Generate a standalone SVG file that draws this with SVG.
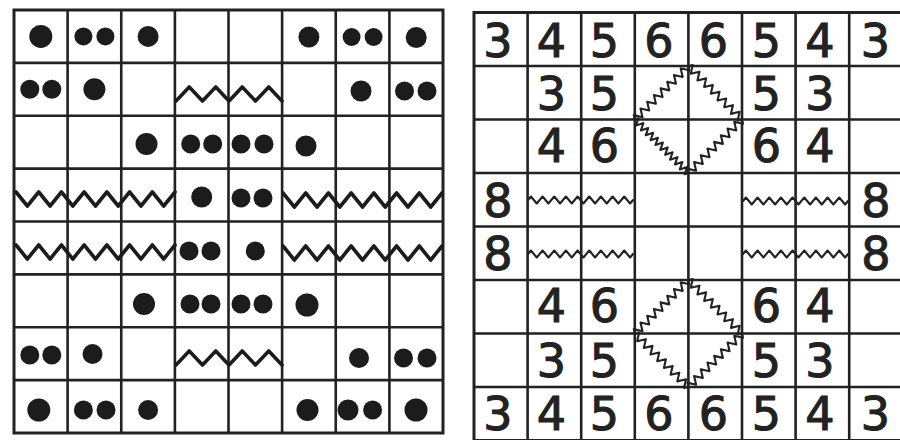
<svg xmlns="http://www.w3.org/2000/svg" xmlns:xlink="http://www.w3.org/1999/xlink" width="900" height="440" viewBox="0 0 900 440">
<style>
.grid{fill:none;stroke:#222;stroke-width:2.6}
.outer{fill:none;stroke:#222;stroke-width:3}
.d{fill:#1c1c1c}
.zt{fill:none;stroke:#1c1c1c;stroke-width:3.6;stroke-linejoin:round;stroke-linecap:round}
.zn{fill:none;stroke:#222;stroke-width:2.1;stroke-linejoin:round;stroke-linecap:round}
.n{font-family:"DejaVu Sans","Liberation Sans",sans-serif;font-size:46px;fill:#222;stroke:#222;stroke-width:1.1;text-anchor:middle}
</style>
<defs>
<path id="zl3" d="M0,-7 l11.36,14 l11.36,-14 l11.36,14 l11.36,-14 l11.36,14 l11.36,-14 l11.36,14 l11.36,-14 l11.36,14 l11.36,-14 l11.36,14 l11.36,-14 l11.36,14 l11.36,-14"/>
<path id="zl2" d="M0,7 l13.25,-14 l13.25,14 l13.25,-14 l13.25,14 l13.25,-14 l13.25,14 l13.25,-14 l13.25,14"/>
<path id="wz" d="M0,0 l2.92,-3.5 l5.833,7 l5.833,-7 l5.833,7 l5.833,-7 l5.833,7 l5.833,-7 l5.833,7 l5.833,-7 l5.833,7 l5.833,-7 l5.833,7 l5.833,-7 l5.833,7 l5.833,-7 l5.833,7 l5.833,-7 l5.833,7 l2.92,-3.5"/>
<path id="dz" d="M0,0 l2.37,-3.8 l4.733,7.6 l4.733,-7.6 l4.733,7.6 l4.733,-7.6 l4.733,7.6 l4.733,-7.6 l4.733,7.6 l4.733,-7.6 l4.733,7.6 l4.733,-7.6 l4.733,7.6 l4.733,-7.6 l4.733,7.6 l4.733,-7.6 l4.733,7.6 l2.37,-3.8"/>
<path id="dz2" d="M0,0 l1.72,-3.5 l3.442,7 l3.442,-7 l3.442,7 l3.442,-7 l3.442,7 l3.442,-7 l3.442,7 l3.442,-7 l3.442,7 l3.442,-7 l3.442,7 l3.442,-7 l3.442,7 l3.442,-7 l3.442,7 l3.442,-7 l3.442,7 l3.442,-7 l3.442,7 l3.442,-7 l3.442,7 l1.72,-3.5"/>
</defs>
<rect width="900" height="440" fill="#fff"/>

<g id="left-grid">
<path class="grid" d="M67.6,10V433M121.25,10V433M174.9,10V433M228.5,10V433M282.1,10V433M335.75,10V433M389.4,10V433M14,62.9H443M14,115.75H443M14,168.6H443M14,221.5H443M14,274.4H443M14,327.25H443M14,380.1H443"/>
<rect class="outer" x="14" y="10" width="429" height="423"/>
</g>

<g id="left-row0">
<circle class="d" cx="40.8" cy="36.4" r="11.5"/>
<circle class="d" cx="83.4" cy="36.4" r="9"/><circle class="d" cx="105.4" cy="36.4" r="9"/>
<circle class="d" cx="148.1" cy="36.4" r="10.5"/>
<circle class="d" cx="308.9" cy="37" r="10.5"/>
<circle class="d" cx="351.6" cy="37" r="9"/><circle class="d" cx="373.6" cy="37" r="9"/>
<circle class="d" cx="416.2" cy="37.5" r="10.5"/>
</g>
<g id="left-row1">
<circle class="d" cx="29.8" cy="89.3" r="9.5"/><circle class="d" cx="51.8" cy="89.3" r="9.5"/>
<circle class="d" cx="94.4" cy="89.3" r="11"/>
<use href="#zl2" class="zt" transform="translate(176,94)"/>
<circle class="d" cx="361" cy="91" r="10.5"/>
<circle class="d" cx="404.5" cy="91" r="9.5"/><circle class="d" cx="427" cy="91" r="9.5"/>
</g>
<g id="left-row2">
<circle class="d" cx="146.5" cy="144" r="11"/>
<circle class="d" cx="190.7" cy="144" r="9.5"/><circle class="d" cx="212.7" cy="144" r="9.5"/>
<circle class="d" cx="241" cy="144" r="9.5"/><circle class="d" cx="264" cy="144" r="9.5"/>
<circle class="d" cx="306" cy="146" r="10.5"/>
</g>
<g id="left-row3">
<use href="#zl3" class="zt" transform="translate(16,199)"/>
<circle class="d" cx="201.7" cy="197" r="10.5"/>
<circle class="d" cx="241" cy="198" r="9.5"/><circle class="d" cx="263" cy="198" r="9.5"/>
<use href="#zl3" class="zt" transform="translate(283,200)"/>
</g>
<g id="left-row4">
<use href="#zl3" class="zt" transform="translate(16,252)"/>
<circle class="d" cx="189" cy="251" r="9.5"/><circle class="d" cx="211" cy="251" r="9.5"/>
<circle class="d" cx="255.3" cy="251" r="9.5"/>
<use href="#zl3" class="zt" transform="translate(283,253)"/>
</g>
<g id="left-row5">
<circle class="d" cx="144" cy="304" r="11"/>
<circle class="d" cx="190" cy="304" r="9.5"/><circle class="d" cx="211" cy="304" r="9.5"/>
<circle class="d" cx="241" cy="304" r="9.5"/><circle class="d" cx="263" cy="304" r="9.5"/>
<circle class="d" cx="307" cy="305" r="11.5"/>
</g>
<g id="left-row6">
<circle class="d" cx="29.8" cy="355" r="9.5"/><circle class="d" cx="51.8" cy="355" r="9.5"/>
<circle class="d" cx="92.5" cy="354" r="10"/>
<use href="#zl2" class="zt" transform="translate(176,358)"/>
<circle class="d" cx="359" cy="358" r="10"/>
<circle class="d" cx="403.5" cy="358" r="9.5"/><circle class="d" cx="427" cy="358" r="9.5"/>
</g>
<g id="left-row7">
<circle class="d" cx="38.8" cy="410" r="11.5"/>
<circle class="d" cx="83.4" cy="410" r="9.5"/><circle class="d" cx="106" cy="410" r="9.5"/>
<circle class="d" cx="148.1" cy="410" r="10"/>
<circle class="d" cx="307.5" cy="410" r="11"/>
<circle class="d" cx="348" cy="410" r="10.5"/><circle class="d" cx="372.6" cy="410" r="9.5"/>
<circle class="d" cx="416" cy="410" r="11.5"/>
</g>

<g id="right-grid">
<path class="grid" d="M527.6,12.5V441M581.2,12.5V441M634.8,12.5V441M688.4,12.5V441M742,12.5V441M795.6,12.5V441M849.2,12.5V441M474,66H902M474,119.5H902M474,173H902M474,226.5H902M474,280H902M474,333.5H902M474,387H902"/>
<rect class="outer" x="474" y="12.5" width="428.8" height="428"/>
</g>

<g id="right-row0">
<text class="n" x="498" y="56.5">3</text><text class="n" x="551.5" y="56.5">4</text><text class="n" x="604.5" y="56.5">5</text><text class="n" x="659" y="56.5">6</text>
<text class="n" x="713.5" y="56.5">6</text><text class="n" x="766.5" y="56.5">5</text><text class="n" x="820" y="56.5">4</text><text class="n" x="875.5" y="56.5">3</text>
</g>
<g id="right-row1">
<text class="n" x="551.5" y="110">3</text><text class="n" x="604.5" y="110">5</text>
<text class="n" x="766.5" y="110">5</text><text class="n" x="820" y="110">3</text>
</g>
<g id="right-row2">
<text class="n" x="551.5" y="162">4</text><text class="n" x="604.5" y="162">6</text>
<text class="n" x="766.5" y="162">6</text><text class="n" x="820" y="162">4</text>
</g>
<g id="top-diamond">
<use href="#dz" class="zn" transform="translate(634.8,119.5) rotate(-45)"/>
<use href="#dz" class="zn" transform="translate(688.4,66) rotate(45)"/>
<use href="#dz2" class="zn" transform="translate(634.8,119.5) rotate(45)"/>
<use href="#dz" class="zn" transform="translate(688.4,173) rotate(-45)"/>
</g>
<g id="right-row3">
<text class="n" x="498" y="217">8</text>
<use href="#wz" class="zn" transform="translate(528,200)"/>
<use href="#wz" class="zn" transform="translate(743,201)"/>
<text class="n" x="876" y="217">8</text>
</g>
<g id="right-row4">
<text class="n" x="498" y="270">8</text>
<use href="#wz" class="zn" transform="translate(528,254)"/>
<use href="#wz" class="zn" transform="translate(743,254)"/>
<text class="n" x="876" y="270">8</text>
</g>
<g id="right-row5">
<text class="n" x="551.5" y="322">4</text><text class="n" x="604.5" y="322">6</text>
<text class="n" x="766.5" y="322">6</text><text class="n" x="820" y="322">4</text>
</g>
<g id="bottom-diamond">
<use href="#dz" class="zn" transform="translate(634.8,333.5) rotate(-45)"/>
<use href="#dz" class="zn" transform="translate(688.4,280) rotate(45)"/>
<use href="#dz" class="zn" transform="translate(634.8,333.5) rotate(45)"/>
<use href="#dz" class="zn" transform="translate(688.4,387) rotate(-45)"/>
</g>
<g id="right-row6">
<text class="n" x="551.5" y="377">3</text><text class="n" x="604.5" y="377">5</text>
<text class="n" x="766.5" y="377">5</text><text class="n" x="820" y="377">3</text>
</g>
<g id="right-row7">
<text class="n" x="498" y="430">3</text><text class="n" x="551.5" y="430">4</text><text class="n" x="604.5" y="430">5</text><text class="n" x="659" y="430">6</text>
<text class="n" x="713.5" y="430">6</text><text class="n" x="766.5" y="430">5</text><text class="n" x="820" y="430">4</text><text class="n" x="875.5" y="430">3</text>
</g>
</svg>
